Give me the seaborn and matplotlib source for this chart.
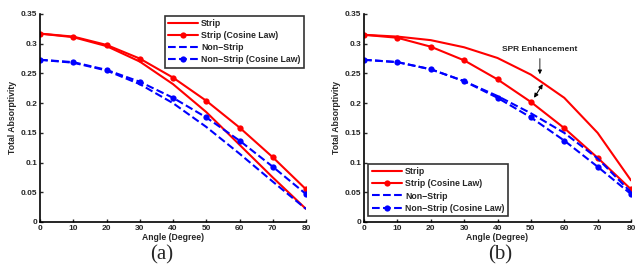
import numpy as np
import pandas as pd
import seaborn as sns
import matplotlib
matplotlib.use("Agg")
import matplotlib.pyplot as plt

angles = [0, 10, 20, 30, 40, 50, 60, 70, 80]

# panel (a)
a_strip = [0.317, 0.311, 0.296, 0.270, 0.232, 0.185, 0.130, 0.075, 0.022]
a_strip_cos = [0.317, 0.312, 0.298, 0.275, 0.243, 0.204, 0.159, 0.109, 0.055]
a_non = [0.273, 0.268, 0.255, 0.232, 0.200, 0.160, 0.115, 0.068, 0.022]
a_non_cos = [0.273, 0.269, 0.256, 0.236, 0.209, 0.176, 0.137, 0.093, 0.047]

# panel (b)
b_strip = [0.315, 0.312, 0.306, 0.294, 0.276, 0.248, 0.209, 0.150, 0.070]
b_strip_cos = [0.315, 0.310, 0.295, 0.272, 0.240, 0.202, 0.158, 0.108, 0.055]
b_non = [0.273, 0.269, 0.257, 0.237, 0.212, 0.183, 0.150, 0.107, 0.050]
b_non_cos = [0.273, 0.269, 0.257, 0.237, 0.209, 0.176, 0.137, 0.093, 0.047]

names = ["Strip", "Strip (Cosine Law)", "Non\u2212Strip", "Non\u2212Strip (Cosine Law)"]
styles = [
    dict(color="#ff0000", ls="-", marker=None),
    dict(color="#ff0000", ls="-", marker="o"),
    dict(color="#0000ff", ls="--", marker=None),
    dict(color="#0000ff", ls="--", marker="o"),
]

sns.set_style("white")
plt.rcParams["font.family"] = ["Liberation Sans", "DejaVu Sans"]
plt.rcParams["font.weight"] = "bold"

fig = plt.figure(figsize=(6.38, 2.76), dpi=100)
ax1 = fig.add_axes([40 / 638, 54 / 276, 266 / 638, 208 / 276])
ax2 = fig.add_axes([364 / 638, 54 / 276, 267 / 638, 208 / 276])


def draw(ax, series, legend_loc, anchor):
    for name, ys, st in zip(names, series, styles):
        df = pd.DataFrame({"x": angles, "y": ys})
        sns.lineplot(data=df, x="x", y="y", ax=ax, color=st["color"],
                     linestyle=st["ls"], marker=st["marker"], markersize=4.5,
                     markeredgewidth=0, linewidth=1.5,
                     dashes=False if st["ls"] == "-" else (3.5, 2),
                     label=name)
    ax.set_xlim(0, 80)
    ax.set_ylim(0, 0.35)
    ax.set_xticks(angles)
    ax.set_yticks([0, 0.05, 0.1, 0.15, 0.2, 0.25, 0.3, 0.35])
    ax.set_yticklabels(["0", "0.05", "0.1", "0.15", "0.2", "0.25", "0.3", "0.35"])
    ax.tick_params(direction="in", length=2.5, width=1, labelsize=6, pad=2,
                   bottom=True, left=True)
    for lab in ax.get_xticklabels() + ax.get_yticklabels():
        lab.set_fontweight("bold")
    for s in ["top", "right"]:
        ax.spines[s].set_visible(False)
    for s in ["left", "bottom"]:
        ax.spines[s].set_linewidth(1.2)
        ax.spines[s].set_color("black")
    ax.set_xlabel("Angle (Degree)", fontsize=6.2, fontweight="bold", labelpad=1)
    ax.set_ylabel("Total Absorptivity", fontsize=6.2, fontweight="bold", labelpad=3)
    leg = ax.legend(loc=legend_loc, bbox_to_anchor=anchor,
                    frameon=True, fancybox=False, handlelength=3.4,
                    borderpad=0.4, labelspacing=0.35, handletextpad=0.4,
                    borderaxespad=0.2,
                    prop={"size": 6.3, "weight": "bold"})
    leg.get_frame().set_edgecolor("black")
    leg.get_frame().set_linewidth(1.2)


draw(ax1, [a_strip, a_strip_cos, a_non, a_non_cos], "upper right", (1.0, 1.0))
draw(ax2, [b_strip, b_strip_cos, b_non, b_non_cos], "lower left", (0.01, 0.02))

ax2.annotate("SPR Enhancement", xy=(52.7, 0.244), xytext=(52.7, 0.291),
             ha="center", va="center", fontsize=6, fontweight="bold",
             arrowprops=dict(arrowstyle="-|>", color="black", lw=0.6,
                             mutation_scale=6))
ax2.annotate("", xy=(50.5, 0.205), xytext=(54.0, 0.236),
             arrowprops=dict(arrowstyle="<|-|>", color="black", lw=0.8,
                             mutation_scale=6))

fig.text(162 / 638, 1 - 255 / 276, "(a)", ha="center", va="center",
         fontsize=15, family="Liberation Serif", fontweight="normal")
fig.text(500 / 638, 1 - 255 / 276, "(b)", ha="center", va="center",
         fontsize=15, family="Liberation Serif", fontweight="normal")

fig.savefig("out.png", dpi=100)
